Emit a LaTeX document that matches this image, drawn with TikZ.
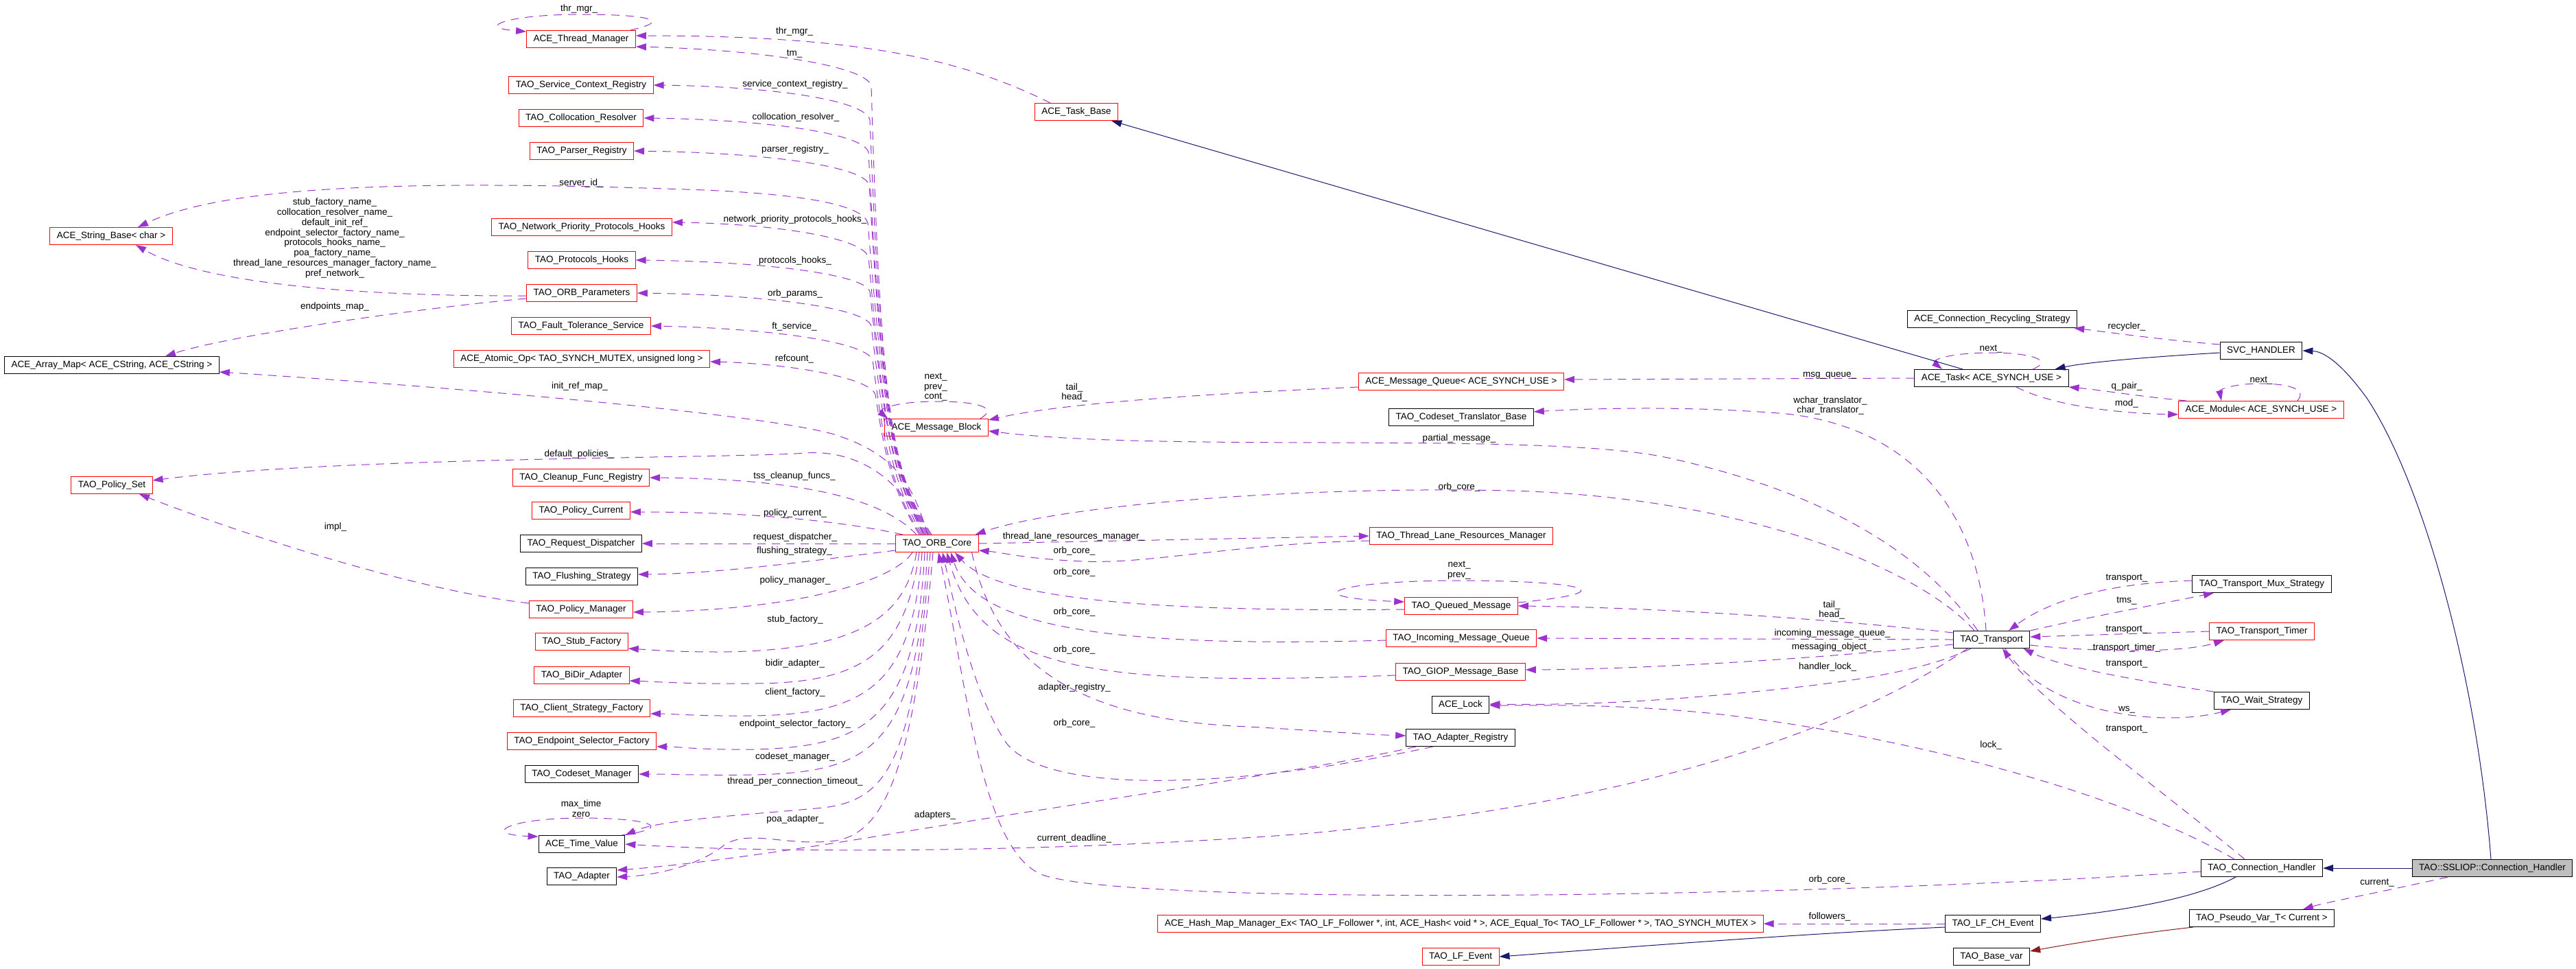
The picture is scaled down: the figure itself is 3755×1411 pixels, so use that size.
\documentclass[tikz,border=0pt]{standalone}
\usepackage{fontspec}
\setmainfont{Liberation Sans}
\usepackage{xcolor}
\usepackage{tikz}
\usetikzlibrary{arrows.meta}
\definecolor{memberpurple}{HTML}{9A32CD}
\definecolor{inhblue}{HTML}{191970}
\definecolor{tmplred}{HTML}{8B1A1A}
\definecolor{boxgray}{HTML}{BFBFBF}
\tikzstyle{redclass} = [rectangle, draw=red, line width=1pt, minimum height=25pt, inner xsep=10pt, inner ysep=0pt, text height=10pt, text depth=3pt, font=\fontsize{13.5}{15}\selectfont]
\tikzstyle{blackclass} = [redclass, draw=black]
\tikzstyle{focusclass} = [redclass, draw=black, fill=boxgray]
\tikzstyle{member} = [draw=memberpurple, line width=1pt, dash pattern=on 12pt off 9pt, -{Triangle[length=15pt,width=10pt]}]
\tikzstyle{inherit} = [draw=inhblue, line width=1pt, -{Triangle[length=15pt,width=10pt]}]
\tikzstyle{instance} = [draw=tmplred, line width=1pt, -{Triangle[length=15pt,width=10pt]}]
\tikzstyle{elabel} = [inner sep=0pt, align=center, font=\fontsize{13.5}{14.8}\selectfont]

\begin{document}
\begin{tikzpicture}[x=1pt, y=-1pt]
    \useasboundingbox (0,0) rectangle (3755,1411);
    \fill[white] (0,0) rectangle (3755,1411);

    % Left column
    \node[redclass] (strbase) at (162,344) {ACE\_String\_Base< char >};
    \node[blackclass] (arraymap) at (163,532) {ACE\_Array\_Map< ACE\_CString, ACE\_CString >};
    \node[redclass] (policyset) at (163,707) {TAO\_Policy\_Set};

    % Members of the ORB core
    \node[redclass] (thrmgr) at (847,57) {ACE\_Thread\_Manager};
    \node[redclass] (scr) at (847,124) {TAO\_Service\_Context\_Registry};
    \node[redclass] (colres) at (847,172) {TAO\_Collocation\_Resolver};
    \node[redclass] (parser) at (848,220) {TAO\_Parser\_Registry};
    \node[redclass] (nethooks) at (848,331) {TAO\_Network\_Priority\_Protocols\_Hooks};
    \node[redclass] (protohooks) at (848,379) {TAO\_Protocols\_Hooks};
    \node[redclass] (orbparams) at (848,427) {TAO\_ORB\_Parameters};
    \node[redclass] (ftserv) at (847,475) {TAO\_Fault\_Tolerance\_Service};
    \node[redclass] (atomic) at (848,523) {ACE\_Atomic\_Op< TAO\_SYNCH\_MUTEX, unsigned long >};
    \node[redclass] (cleanup) at (847,696) {TAO\_Cleanup\_Func\_Registry};
    \node[redclass] (polcur) at (847,744) {TAO\_Policy\_Current};
    \node[blackclass] (reqdisp) at (847,792) {TAO\_Request\_Dispatcher};
    \node[blackclass] (flush) at (848,840) {TAO\_Flushing\_Strategy};
    \node[redclass] (polman) at (847,888) {TAO\_Policy\_Manager};
    \node[redclass] (stubfac) at (848,935) {TAO\_Stub\_Factory};
    \node[redclass] (bidir) at (848,984) {TAO\_BiDir\_Adapter};
    \node[redclass] (clientfac) at (848,1032) {TAO\_Client\_Strategy\_Factory};
    \node[redclass] (endsel) at (848,1080) {TAO\_Endpoint\_Selector\_Factory};
    \node[blackclass] (codesetman) at (848,1128) {TAO\_Codeset\_Manager};
    \node[blackclass] (timeval) at (848,1230) {ACE\_Time\_Value};
    \node[blackclass] (adapter) at (848,1277) {TAO\_Adapter};

    % Core and message block
    \node[redclass] (core) at (1366,792) {TAO\_ORB\_Core};
    \node[redclass] (msgblock) at (1365,623) {ACE\_Message\_Block};
    \node[redclass] (taskbase) at (1569,163) {ACE\_Task\_Base};

    % Middle column
    \node[redclass] (msgqueue) at (2130,556) {ACE\_Message\_Queue< ACE\_SYNCH\_USE >};
    \node[blackclass] (cstrans) at (2130,608) {TAO\_Codeset\_Translator\_Base};
    \node[redclass] (tlrm) at (2130,781) {TAO\_Thread\_Lane\_Resources\_Manager};
    \node[redclass] (qmsg) at (2130,883) {TAO\_Queued\_Message};
    \node[redclass] (inq) at (2130,930) {TAO\_Incoming\_Message\_Queue};
    \node[redclass] (giop) at (2129,979) {TAO\_GIOP\_Message\_Base};
    \node[blackclass] (acelock) at (2129,1027) {ACE\_Lock};
    \node[blackclass] (adreg) at (2129,1075) {TAO\_Adapter\_Registry};
    \node[redclass] (hashmap) at (2129,1346) {ACE\_Hash\_Map\_Manager\_Ex< TAO\_LF\_Follower *, int, ACE\_Hash< void * >, ACE\_Equal\_To< TAO\_LF\_Follower * >, TAO\_SYNCH\_MUTEX >};
    \node[redclass] (lfevent) at (2129,1394) {TAO\_LF\_Event};

    % Right columns
    \node[blackclass] (recycle) at (2904,465) {ACE\_Connection\_Recycling\_Strategy};
    \node[blackclass] (task) at (2903,551) {ACE\_Task< ACE\_SYNCH\_USE >};
    \node[blackclass] (transport) at (2903,932) {TAO\_Transport};
    \node[blackclass] (lfch) at (2905,1346) {TAO\_LF\_CH\_Event};
    \node[blackclass] (basevar) at (2903,1394) {TAO\_Base\_var};
    \node[blackclass] (svc) at (3296,511) {SVC\_HANDLER};
    \node[redclass] (module) at (3296,597) {ACE\_Module< ACE\_SYNCH\_USE >};
    \node[blackclass] (tms) at (3297,851) {TAO\_Transport\_Mux\_Strategy};
    \node[redclass] (ttimer) at (3297,920) {TAO\_Transport\_Timer};
    \node[blackclass] (wait) at (3297,1021) {TAO\_Wait\_Strategy};
    \node[blackclass] (conn) at (3297,1265) {TAO\_Connection\_Handler};
    \node[blackclass] (pseudo) at (3297,1338) {TAO\_Pseudo\_Var\_T< Current >};
    \node[focusclass] (ssliop) at (3633,1265) {TAO::SSLIOP::Connection\_Handler};

    % ORB core members above it
    \draw[member] ([xshift=-8pt]core.north) .. controls (1300,690) and (1284,600) .. (1270,125) .. controls (1262,95) and (1100,72) .. ([yshift=-11pt]thrmgr.east);
    \draw[member] ([xshift=-10pt]core.north) .. controls (1300,690) and (1285,600) .. (1268,175) .. controls (1262,145) and (1120,126) .. (scr.east);
    \draw[member] ([xshift=-12pt]core.north) .. controls (1300,690) and (1286,600) .. (1266,222) .. controls (1258,192) and (1100,174) .. (colres.east);
    \draw[member] ([xshift=-14pt]core.north) .. controls (1300,690) and (1287,600) .. (1267,270) .. controls (1260,240) and (1100,222) .. (parser.east);
    \draw[member] ([xshift=-16pt]core.north) .. controls (1300,690) and (1288,600) .. (1265,325) .. controls (1258,300) and (1180,282) .. (1000,276) .. controls (600,262) and (330,270) .. ([xshift=39pt]strbase.north);
    \draw[member] ([xshift=-18pt]core.north) .. controls (1300,690) and (1288,620) .. (1266,375) .. controls (1258,345) and (1120,326) .. ([yshift=7pt]nethooks.east);
    \draw[member] ([xshift=-20pt]core.north) .. controls (1300,690) and (1289,620) .. (1268,425) .. controls (1260,398) and (1100,381) .. (protohooks.east);
    \draw[member] ([xshift=-22pt]core.north) .. controls (1300,700) and (1290,640) .. (1270,475) .. controls (1262,447) and (1100,429) .. (orbparams.east);
    \draw[member] ([xshift=-24pt]core.north) .. controls (1300,710) and (1290,660) .. (1272,525) .. controls (1264,497) and (1110,478) .. (ftserv.east);
    \draw[member] ([xshift=-26pt]core.north) .. controls (1305,720) and (1292,680) .. (1276,575) .. controls (1268,550) and (1150,530) .. ([yshift=-4pt]atomic.east);
    \draw[member] ([xshift=-14pt]core.north) .. controls (1330,700) and (1300,660) .. (1216,633) .. controls (1100,600) and (600,560) .. ([yshift=-10pt]arraymap.east);
    \draw[member] ([xshift=-20pt]core.north) .. controls (1320,700) and (1250,655) .. (1175,660) .. controls (1080,668) and (500,665) .. ([yshift=7pt]policyset.east);
    \draw[member] ([xshift=-30pt]core.north) .. controls (1290,730) and (1180,698) .. (cleanup.east);
    \draw[member] ([xshift=-50pt]core.north) .. controls (1230,760) and (1100,746) .. ([yshift=-2pt]polcur.east);
    \draw[member] (core.west) -- (reqdisp.east);
    \draw[member] ([yshift=-10pt]core.west) .. controls (1200,815) and (1050,836) .. ([yshift=3pt]flush.east);

    % ORB core members below it
    \draw[member] ([xshift=-36pt]core.south) .. controls (1300,850) and (1150,890) .. ([yshift=-4pt]polman.east);
    \draw[member] ([xshift=-30pt]core.south) .. controls (1320,900) and (1250,948) .. (1050,950) .. controls (980,950) and (950,947) .. ([yshift=-10pt]stubfac.east);
    \draw[member] ([xshift=-26pt]core.south) .. controls (1320,950) and (1260,995) .. (1100,996) .. controls (1000,997) and (950,993) .. ([yshift=-8pt]bidir.east);
    \draw[member] ([xshift=-22pt]core.south) .. controls (1330,1000) and (1260,1040) .. (1100,1043) .. controls (1020,1044) and (980,1040) .. ([yshift=-8pt]clientfac.east);
    \draw[member] ([xshift=-18pt]core.south) .. controls (1335,1050) and (1260,1088) .. (1100,1092) .. controls (1020,1093) and (990,1088) .. ([yshift=-8pt]endsel.east);
    \draw[member] ([xshift=-14pt]core.south) .. controls (1335,1090) and (1270,1125) .. (1100,1129) .. controls (1020,1130) and (980,1128) .. (codesetman.east);
    \draw[member] ([xshift=-10pt]core.south) .. controls (1330,1100) and (1300,1165) .. (1200,1177) .. controls (1080,1188) and (960,1195) .. (timeval.north east);
    \draw[member] ([xshift=-6pt]core.south) .. controls (1330,1150) and (1280,1220) .. (1210,1226) .. controls (1140,1232) and (1090,1208) .. (1055,1232) .. controls (1020,1260) and (960,1275) .. ([yshift=-1pt]adapter.east);
    \draw[member] ([xshift=-10pt]core.south east) .. controls (1450,960) and (1560,1045) .. (1800,1058) .. controls (1900,1063) and (1980,1070) .. ([yshift=3pt]adreg.west);
    \draw[member] (core.east) -- (tlrm.west);

    % Back references to the ORB core
    \draw[member] ([xshift=-25pt]transport.north) .. controls (2800,830) and (2550,725) .. (2202,715) .. controls (1900,708) and (1550,735) .. ([xshift=-5pt]core.north east);
    \draw[member] ([yshift=-7pt]tlrm.west) .. controls (1800,792) and (1680,822) .. (1580,818) .. controls (1500,815) and (1460,805) .. ([yshift=-10pt]core.east);
    \draw[member] ([yshift=-5pt]qmsg.west) .. controls (1650,892) and (1450,870) .. ([xshift=26pt]core.south);
    \draw[member] ([yshift=-3pt]inq.west) .. controls (1600,945) and (1420,910) .. ([xshift=20pt]core.south);
    \draw[member] ([yshift=-5pt]giop.west) .. controls (1600,1000) and (1430,980) .. ([xshift=14pt]core.south);
    \draw[member] ([xshift=-40pt]adreg.south) .. controls (1800,1150) and (1520,1160) .. (1465,1080) .. controls (1420,1010) and (1395,900) .. ([xshift=8pt]core.south);
    \draw[member] ([yshift=-5pt]conn.west) .. controls (2600,1310) and (1650,1320) .. (1520,1275) .. controls (1430,1240) and (1410,1000) .. ([xshift=2pt]core.south);

    % Self references
    \draw[member] ([xshift=-8pt]thrmgr.north east) .. controls (990,28) and (930,21) .. (847,21) .. controls (740,21) and (690,40) .. ([yshift=-2pt]thrmgr.north west);
    \draw[member] ([xshift=-5pt]timeval.north east) .. controls (990,1205) and (940,1192) .. (848,1192) .. controls (740,1192) and (700,1216) .. ([yshift=-2pt]timeval.north west);
    \draw[member] ([xshift=-12pt]msgblock.north east) .. controls (1455,595) and (1430,585) .. (1365,585) .. controls (1300,585) and (1280,598) .. ([xshift=5pt]msgblock.north west);
    \draw[member] ([yshift=5pt]qmsg.east) .. controls (2380,862) and (2300,846) .. (2127,846) .. controls (1950,846) and (1880,870) .. ([yshift=6pt]qmsg.west);
    \draw[member] ([xshift=60pt]task.north) .. controls (2995,525) and (2960,514) .. (2903,514) .. controls (2840,514) and (2815,525) .. ([xshift=-72pt]task.north);
    \draw[member] ([xshift=53pt]module.north) .. controls (3365,565) and (3330,559) .. (3294,559) .. controls (3255,559) and (3235,568) .. ([xshift=-58pt]module.north);

    % Other members
    \draw[member] ([xshift=-38pt]taskbase.north) .. controls (1400,85) and (1250,52) .. ([yshift=5pt]thrmgr.east);
    \draw[member] ([yshift=-4pt]orbparams.west) .. controls (500,432) and (290,410) .. ([xshift=36pt]strbase.south);
    \draw[member] ([yshift=-8pt]orbparams.west) .. controls (600,450) and (330,490) .. ([xshift=78pt]arraymap.north);
    \draw[member] ([yshift=9pt]polman.west) .. controls (600,860) and (330,770) .. ([xshift=40pt]policyset.south);
    \draw[member] ([yshift=-8pt]msgqueue.west) .. controls (1800,572) and (1560,585) .. ([yshift=11pt]msgblock.east);
    \draw[member] (task.west) -- ([yshift=3pt]msgqueue.east);
    \draw[member] ([xshift=-20pt]transport.north) .. controls (2800,800) and (2650,715) .. (2431,667) .. controls (2250,628) and (1700,660) .. ([yshift=-5pt]msgblock.east);
    \draw[member] ([xshift=-8pt]transport.north) .. controls (2885,760) and (2800,625) .. (2604,603) .. controls (2450,590) and (2300,596) .. ([yshift=8pt]cstrans.east);
    \draw[member] ([yshift=10pt]transport.west) .. controls (2650,900) and (2400,885) .. (qmsg.east);
    \draw[member] (transport.west) -- (inq.east);
    \draw[member] ([yshift=-7pt]transport.west) .. controls (2650,960) and (2400,975) .. ([yshift=3pt]giop.east);
    \draw[member] ([xshift=-30pt]transport.south) .. controls (2790,985) and (2650,1000) .. (2480,1015) .. controls (2350,1026) and (2250,1027) .. ([yshift=1pt]acelock.east);
    \draw[member] ([xshift=-40pt]conn.north) .. controls (3100,1160) and (2800,1075) .. (2500,1040) .. controls (2350,1025) and (2250,1028) .. ([yshift=-1pt]acelock.east);
    \draw[member] ([xshift=-65pt]adreg.south) .. controls (1900,1125) and (1600,1165) .. (1300,1215) .. controls (1100,1248) and (980,1262) .. ([yshift=9pt]adapter.east);
    \draw[member] ([xshift=-35pt]transport.south) .. controls (2700,1060) and (2400,1170) .. (1900,1215) .. controls (1500,1245) and (1100,1242) .. (timeval.east);
    \draw[member] ([yshift=9pt]svc.west) .. controls (3150,495) and (3080,485) .. ([xshift=-5pt]recycle.south east);
    \draw[member] ([xshift=12pt]module.north west) .. controls (3120,578) and (3060,568) .. (task.south east);
    \draw[member] ([xshift=36pt]task.south) .. controls (2990,590) and (3080,602) .. ([yshift=-7pt]module.west);
    \draw[member] ([yshift=5pt]tms.west) .. controls (3060,850) and (2980,880) .. ([xshift=25pt]transport.north);
    \draw[member] (transport.north east) .. controls (3040,900) and (3150,880) .. ([xshift=-70pt]tms.south);
    \draw[member] (ttimer.west) -- ([yshift=4pt]transport.east);
    \draw[member] ([yshift=-8pt]transport.east) .. controls (3050,950) and (3180,952) .. ([xshift=-55pt]ttimer.south);
    \draw[member] (wait.north west) .. controls (3100,990) and (3000,970) .. ([xshift=-10pt]transport.south east);
    \draw[member] ([xshift=20pt]transport.south) .. controls (2980,1040) and (3150,1060) .. ([xshift=-45pt]wait.south);
    \draw[member] ([xshift=-25pt]conn.north) .. controls (3150,1150) and (2980,1030) .. ([xshift=16pt]transport.south);
    \draw[member] (lfch.west) -- (hashmap.east);
    \draw[member] ([xshift=-65pt]ssliop.south) .. controls (3480,1298) and (3390,1315) .. ([xshift=60pt]pseudo.north);

    % Inheritance
    \draw[inherit] ([xshift=-42pt]task.north) -- ([xshift=-10pt]taskbase.south east);
    \draw[inherit] ([yshift=-3pt]svc.west) .. controls (3100,522) and (3030,530) .. ([xshift=-20pt]task.north east);
    \draw[inherit] ([xshift=-2pt]ssliop.north) .. controls (3610,980) and (3530,700) .. (3450,580) .. controls (3410,525) and (3385,512) .. (svc.east);
    \draw[inherit] (ssliop.west) -- (conn.east);
    \draw[inherit] ([xshift=-38pt]conn.south) .. controls (3200,1310) and (3090,1328) .. ([yshift=7pt]lfch.east);
    \draw[inherit] ([yshift=-5pt]lfch.west) .. controls (2600,1362) and (2350,1382) .. (lfevent.east);
    \draw[instance] ([xshift=-100pt]pseudo.south) .. controls (3100,1362) and (3020,1375) .. ([yshift=8pt]basevar.east);

    % Edge labels
    \node[elabel] (lthrloop) at (844,13) {thr\_mgr\_};
    \node[elabel] (lthrmgr) at (1158,46) {thr\_mgr\_};
    \node[elabel] (ltm) at (1158,78) {tm\_};
    \node[elabel] (lscr) at (1159,123) {service\_context\_registry\_};
    \node[elabel] (lcolres) at (1160,171) {collocation\_resolver\_};
    \node[elabel] (lparser) at (1159,218) {parser\_registry\_};
    \node[elabel] (lserverid) at (847,267) {server\_id\_};
    \node[elabel] (lnames) at (488,347) {stub\_factory\_name\_\\collocation\_resolver\_name\_\\default\_init\_ref\_\\endpoint\_selector\_factory\_name\_\\protocols\_hooks\_name\_\\poa\_factory\_name\_\\thread\_lane\_resources\_manager\_factory\_name\_\\pref\_network\_};
    \node[elabel] (lnethooks) at (1159,320) {network\_priority\_protocols\_hooks\_};
    \node[elabel] (lprotohooks) at (1159,380) {protocols\_hooks\_};
    \node[elabel] (lorbparams) at (1159,428) {orb\_params\_};
    \node[elabel] (lendpoints) at (488,447) {endpoints\_map\_};
    \node[elabel] (lftserv) at (1158,476) {ft\_service\_};
    \node[elabel] (lrefcount) at (1158,523) {refcount\_};
    \node[elabel] (linitref) at (845,563) {init\_ref\_map\_};
    \node[elabel] (lmbloop) at (1364,564) {next\_\\prev\_\\cont\_};
    \node[elabel] (lmbtail) at (1566,572) {tail\_\\head\_};
    \node[elabel] (lmsgqueue) at (2667,547) {msg\_queue\_};
    \node[elabel] (ltrans) at (2668,591) {wchar\_translator\_\\char\_translator\_};
    \node[elabel] (lpartial) at (2127,639) {partial\_message\_};
    \node[elabel] (ldefpol) at (844,662) {default\_policies\_};
    \node[elabel] (ltss) at (1158,694) {tss\_cleanup\_funcs\_};
    \node[elabel] (lcoretr) at (2127,710) {orb\_core\_};
    \node[elabel] (lpolcur) at (1159,748) {policy\_current\_};
    \node[elabel] (limpl) at (489,768) {impl\_};
    \node[elabel] (ltlrm) at (1565,782) {thread\_lane\_resources\_manager\_};
    \node[elabel] (lreqdisp) at (1159,783) {request\_dispatcher\_};
    \node[elabel] (lflush) at (1158,803) {flushing\_strategy\_};
    \node[elabel] (lcoretl) at (1566,803) {orb\_core\_};
    \node[elabel] (lqloop) at (2127,831) {next\_\\prev\_};
    \node[elabel] (lcoreqm) at (1566,834) {orb\_core\_};
    \node[elabel] (lpolman) at (1159,846) {policy\_manager\_};
    \node[elabel] (lqtail) at (2670,889) {tail\_\\head\_};
    \node[elabel] (lcoreinq) at (1566,892) {orb\_core\_};
    \node[elabel] (lstub) at (1159,903) {stub\_factory\_};
    \node[elabel] (linq) at (2671,923) {incoming\_message\_queue\_};
    \node[elabel] (lmsgobj) at (2670,943) {messaging\_object\_};
    \node[elabel] (lcoregiop) at (1566,947) {orb\_core\_};
    \node[elabel] (lbidir) at (1159,967) {bidir\_adapter\_};
    \node[elabel] (lhlock) at (2664,972) {handler\_lock\_};
    \node[elabel] (ladreg) at (1566,1002) {adapter\_registry\_};
    \node[elabel] (lclient) at (1159,1009) {client\_factory\_};
    \node[elabel] (lcoreadreg) at (1566,1054) {orb\_core\_};
    \node[elabel] (lendsel) at (1159,1055) {endpoint\_selector\_factory\_};
    \node[elabel] (llock) at (2902,1086) {lock\_};
    \node[elabel] (lcodeset) at (1159,1103) {codeset\_manager\_};
    \node[elabel] (ltpct) at (1159,1139) {thread\_per\_connection\_timeout\_};
    \node[elabel] (ltvloop) at (847,1178) {max\_time\\zero};
    \node[elabel] (ladapters) at (1363,1188) {adapters\_};
    \node[elabel] (lpoa) at (1159,1194) {poa\_adapter\_};
    \node[elabel] (ldeadline) at (1566,1222) {current\_deadline\_};
    \node[elabel] (lcoreconn) at (2667,1282) {orb\_core\_};
    \node[elabel] (lfollowers) at (2667,1336) {followers\_};
    \node[elabel] (lrecycler) at (3100,476) {recycler\_};
    \node[elabel] (ltaskloop) at (2902,508) {next\_};
    \node[elabel] (lmodloop) at (3296,554) {next\_};
    \node[elabel] (lqpair) at (3100,563) {q\_pair\_};
    \node[elabel] (lmod) at (3100,588) {mod\_};
    \node[elabel] (ltrmux) at (3100,843) {transport\_};
    \node[elabel] (ltms) at (3100,875) {tms\_};
    \node[elabel] (ltrtimer) at (3100,918) {transport\_};
    \node[elabel] (ltimer) at (3100,944) {transport\_timer\_};
    \node[elabel] (ltrwait) at (3100,968) {transport\_};
    \node[elabel] (lws) at (3100,1034) {ws\_};
    \node[elabel] (ltrconn) at (3100,1063) {transport\_};
    \node[elabel] (lcurrent) at (3465,1286) {current\_};
\end{tikzpicture}
\end{document}
